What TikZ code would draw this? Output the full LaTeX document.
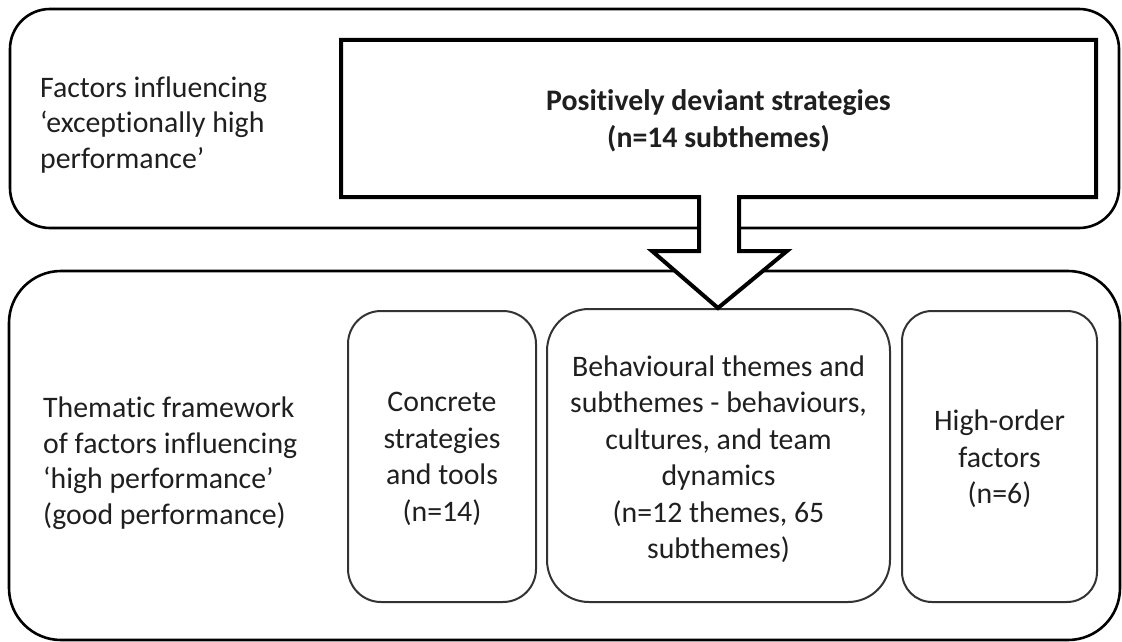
\documentclass[tikz,border=0pt]{standalone}
\usepackage{fontspec}
\setmainfont{Carlito}[RawFeature={-liga}]
\begin{document}
\begin{tikzpicture}[x=1pt,y=-1pt,
  outerbox/.style={draw=black, line width=2.6pt, rounded corners=#1},
  innerbox/.style={draw=black!80, line width=2pt, rounded corners=#1},
  labeltxt/.style={font=\fontsize{29.8}{35.5}\selectfont, text=black!88, inner sep=0pt, align=left, anchor=west},
  boxtxt/.style={font=\fontsize{29.8}{36.5}\selectfont, text=black!88, inner sep=0pt, align=center},
]
\useasboundingbox (0,0) rectangle (1122,642);
% outer boxes
\draw[outerbox=40] (10,9) rectangle (1119,228);
\draw[outerbox=52] (9,271) rectangle (1120,640);
% inner boxes
\draw[innerbox=33] (348,311) rectangle (536,602);
\draw[innerbox=42] (547,309) rectangle (890,602);
\draw[innerbox=30] (902,311) rectangle (1097,602);
% callout arrow
\draw[line width=4pt, fill=white, line join=miter]
  (341,40) -- (1096,40) -- (1096,197) -- (739,197) -- (739,251) -- (787,251)
  -- (718,308) -- (652,251) -- (699,251) -- (699,197) -- (341,197) -- cycle;
% texts
\node[labeltxt] (toplabel) at (40,125)
  {Factors influencing\\‘exceptionally high\\performance’};
\node[boxtxt, font=\fontsize{29.8}{37}\selectfont\bfseries] (pds) at (718.5,121)
  {Positively deviant strategies\\(n=14 subthemes)};
\node[labeltxt] (botlabel) at (43,463)
  {Thematic framework\\of factors influencing\\‘high performance’\\(good performance)};
\node[boxtxt] (concrete) at (442,459)
  {Concrete\\strategies\\and tools\\(n=14)};
\node[boxtxt] (behav) at (718.5,459)
  {Behavioural themes and\\subthemes - behaviours,\\cultures, and team\\dynamics\\(n=12 themes, 65\\subthemes)};
\node[boxtxt] (high) at (999.5,459)
  {High-order\\factors\\(n=6)};
\end{tikzpicture}
\end{document}
